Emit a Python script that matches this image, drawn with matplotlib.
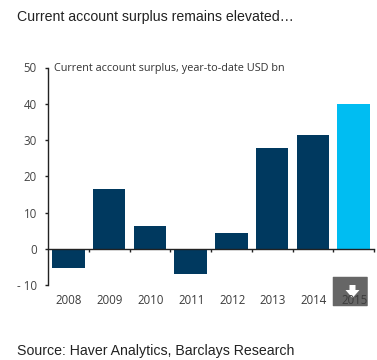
import matplotlib
matplotlib.use('Agg')
import matplotlib.pyplot as plt
from matplotlib.patches import FancyBboxPatch, Polygon

years = ['2008', '2009', '2010', '2011', '2012', '2013', '2014', '2015']
surplus = [-5.2, 16.4, 6.4, -7.0, 4.4, 27.7, 31.3, 40.0]
bar_colors = ['#00395f'] * 7 + ['#00bdf2']
yticks = [-10, 0, 10, 20, 30, 40, 50]
ylabels = ['- 10', '0', '10', '20', '30', '40', '50']

W, H = 377, 360
plt.rcParams['font.family'] = ['Open Sans', 'DejaVu Sans']

fig = plt.figure(figsize=(W / 100, H / 100), dpi=100)
ax = fig.add_axes([48 / W, 1 - 285 / H, 326 / W, 217.5 / H])

x = list(range(len(years)))
ax.bar(x, surplus, width=0.8, color=bar_colors, zorder=2)
ax.set_xlim(-0.5, 7.5)
ax.set_ylim(-10, 50)

ax.spines['top'].set_visible(False)
ax.spines['right'].set_visible(False)
ax.spines['bottom'].set_position(('data', 0))
ax.spines['bottom'].set_linewidth(1.0)
ax.spines['left'].set_linewidth(1.0)
ax.spines['bottom'].set_color('#222222')
ax.spines['left'].set_color('#222222')
ax.spines['bottom'].set_zorder(3)

ax.set_yticks(yticks)
ax.set_yticklabels(ylabels, fontsize=8.3, color='#444444')
ax.tick_params(axis='y', direction='out', length=2.5, width=1, color='#222222', pad=5.5)
ax.set_xticks([i - 0.5 for i in range(1, 9)])
ax.set_xticklabels([])
ax.tick_params(axis='x', direction='out', length=2.5, width=1, color='#222222')

# download button sits under the last year label
button = FancyBboxPatch((333.5 / W, 1 - 305.5 / H), 33.5 / W, 28 / H,
                        boxstyle='round,pad=0.002', transform=fig.transFigure,
                        facecolor='#666666', edgecolor='none', zorder=4)
fig.add_artist(button)
arrow = Polygon([[349.5 / W, 1 - 285 / H], [349.5 / W, 1 - 290 / H], [345.5 / W, 1 - 290 / H],
                 [352.5 / W, 1 - 298 / H], [359.5 / W, 1 - 290 / H], [355.5 / W, 1 - 290 / H],
                 [355.5 / W, 1 - 285 / H]],
                transform=fig.transFigure, facecolor='white', edgecolor='none', zorder=5)
fig.add_artist(arrow)

for i, yr in enumerate(years):
    fig.text((68.8 + i * 40.83) / W, 1 - 301 / H, yr, fontsize=8.3, color='#3c3c3c',
             ha='center', va='center', zorder=6)

fig.text(54 / W, 1 - 69 / H, 'Current account surplus, year-to-date USD bn',
         fontsize=7.85, color='#333333', ha='left', va='center')
fig.text(17 / W, 1 - 17 / H, 'Current account surplus remains elevated…',
         fontsize=10.2, color='#222222', ha='left', va='center', family=['Liberation Sans', 'DejaVu Sans'])
fig.text(17 / W, 1 - 351.5 / H, 'Source: Haver Analytics, Barclays Research',
         fontsize=10.2, color='#222222', ha='left', va='center', family=['Liberation Sans', 'DejaVu Sans'])

fig.savefig('out.png', dpi=100)
